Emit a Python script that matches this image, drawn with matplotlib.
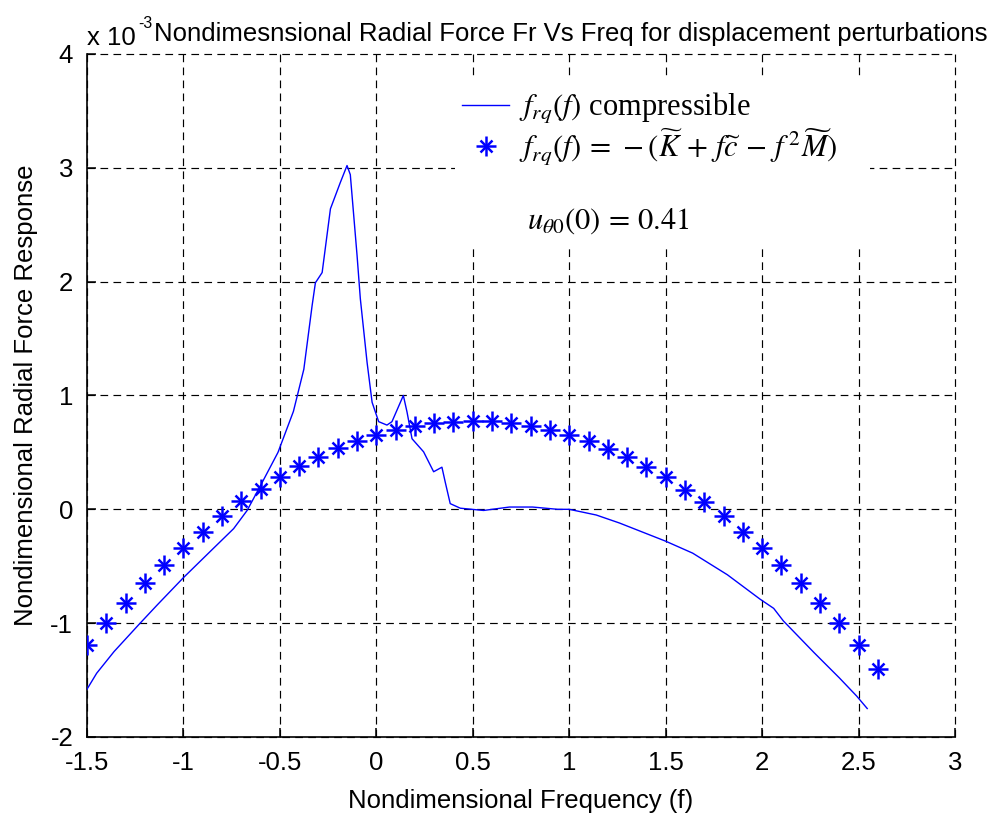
import matplotlib
matplotlib.use("Agg")
import matplotlib.pyplot as plt
from matplotlib.legend_handler import HandlerTuple
from matplotlib.patches import Rectangle
from matplotlib.ticker import FuncFormatter

plt.rcParams["font.family"] = ["Liberation Sans", "DejaVu Sans"]
plt.rcParams["mathtext.fontset"] = "stix"
plt.rcParams["axes.unicode_minus"] = False

# compressible response (x 1e-3), traced along frequency
freq_curve = [-1.50, -1.45, -1.36, -1.23, -1.136, -1.00, -0.843, -0.74, -0.67, -0.60,
              -0.51, -0.43, -0.376, -0.333, -0.316, -0.281, -0.238, -0.187, -0.152, -0.135,
              -0.10, -0.083, -0.048, -0.022, 0.012, 0.055, 0.081, 0.14, 0.159, 0.185,
              0.245, 0.297, 0.34, 0.357, 0.383, 0.435, 0.556, 0.69, 0.81, 0.94,
              1.00, 1.14, 1.26, 1.50, 1.64, 1.82, 1.99, 2.06, 2.11, 2.27,
              2.40, 2.49, 2.545]
fr_compressible = [-1.58, -1.44, -1.25, -1.01, -0.84, -0.60, -0.34, -0.17, -0.01, 0.21,
                   0.50, 0.86, 1.23, 1.79, 1.99, 2.08, 2.64, 2.87, 3.02, 2.94,
                   2.23, 1.85, 1.29, 0.94, 0.77, 0.74, 0.77, 1.00, 0.855, 0.62,
                   0.505, 0.33, 0.37, 0.24, 0.05, 0.01, -0.01, 0.02, 0.02, 0.0,
                   0.0, -0.05, -0.12, -0.28, -0.385, -0.575, -0.79, -0.87, -0.98, -1.26,
                   -1.48, -1.64, -1.75]

# -(K + f c - f^2 M) evaluated on the frequency grid (x 1e-3)
freq_model = [-1.5, -1.4, -1.3, -1.2, -1.1, -1.0, -0.9, -0.8, -0.7, -0.6,
              -0.5, -0.4, -0.3, -0.2, -0.1, 0.0, 0.1, 0.2, 0.3, 0.4,
              0.5, 0.6, 0.7, 0.8, 0.9, 1.0, 1.1, 1.2, 1.3, 1.4,
              1.5, 1.6, 1.7, 1.8, 1.9, 2.0, 2.1, 2.2, 2.3, 2.4,
              2.5, 2.6]
fr_model = [-1.19, -1.00, -0.82, -0.65, -0.49, -0.34, -0.20, -0.06, 0.07, 0.18,
            0.28, 0.38, 0.46, 0.54, 0.60, 0.65, 0.70, 0.73, 0.76, 0.77,
            0.78, 0.78, 0.76, 0.73, 0.70, 0.65, 0.60, 0.53, 0.46, 0.37,
            0.28, 0.17, 0.06, -0.06, -0.20, -0.34, -0.49, -0.65, -0.82, -1.00,
            -1.19, -1.40]

x_ticks = [-1.5, -1, -0.5, 0, 0.5, 1, 1.5, 2, 2.5, 3]
y_ticks = [-2, -1, 0, 1, 2, 3, 4]

LABEL_SIZE = 18.5
LEGEND_SIZE = 22

fig = plt.figure(figsize=(9.98, 8.13), dpi=100)
ax = fig.add_axes([0.0872, 0.0935, 0.8697, 0.8401])

ax.set_xlim(-1.5, 3)
ax.set_ylim(-2, 4)
ax.set_xticks(x_ticks)
ax.set_yticks(y_ticks)
ax.xaxis.set_major_formatter(FuncFormatter(lambda v, p: f"{v:g}"))
ax.yaxis.set_major_formatter(FuncFormatter(lambda v, p: f"{v:g}"))
ax.tick_params(direction="in", length=6.5, width=1.1, labelsize=LABEL_SIZE, pad=10)
for side in ["top", "right"]:
    ax.spines[side].set_visible(False)
for side in ["left", "bottom"]:
    ax.spines[side].set_linewidth(1.2)

ax.set_axisbelow(True)
ax.grid(True, color="black", linestyle=(0, (6.5, 4.5)), linewidth=0.85)
for gl in ax.get_xgridlines() + ax.get_ygridlines():
    gl.set_clip_on(False)

# white area behind the legend and the annotation
ax.add_patch(Rectangle((0.424, 0.720), 0.478, 0.245, transform=ax.transAxes,
                       facecolor="white", edgecolor="none", zorder=1))

line, = ax.plot(freq_curve, fr_compressible, color="#0000ff", linewidth=1.0, zorder=3)
plus, = ax.plot(freq_model, fr_model, linestyle="none", marker="+", markersize=15,
                markeredgewidth=1.8, color="#0000ff", zorder=4)
cross, = ax.plot(freq_model, fr_model, linestyle="none", marker="x", markersize=8,
                 markeredgewidth=1.8, color="#0000ff", zorder=4)

leg = ax.legend([line, (plus, cross)],
                [r"$f_{rq}(f)$ compressible",
                 r"$f_{rq}(f)\,=\,-(\widetilde{K}\,+\,f\widetilde{c}\,-\,f^{\,2}\widetilde{M})$"],
                handler_map={tuple: HandlerTuple(ndivide=1, pad=0)},
                loc="upper left", bbox_to_anchor=(0.425, 0.955), frameon=False,
                prop={"family": "Liberation Serif", "size": LEGEND_SIZE},
                handlelength=1.55, handletextpad=0.3, labelspacing=0.0,
                borderpad=0.2, borderaxespad=0)
leg.set_zorder(5)

ax.text(0.507, 0.745, r"$u_{\theta 0}(0)\,=\,0.41$", transform=ax.transAxes,
        fontsize=LEGEND_SIZE, ha="left", va="baseline", zorder=5)

ax.set_xlabel("Nondimensional Frequency (f)", fontsize=LABEL_SIZE, labelpad=10)
ax.set_ylabel("Nondimensional Radial Force Response", fontsize=LABEL_SIZE, labelpad=9)

fig.text(0.5721, 0.950, "Nondimesnsional Radial Force Fr Vs Freq for displacement perturbations",
         fontsize=LABEL_SIZE, ha="center", va="baseline")
fig.text(0.0872, 0.945, "x 10", fontsize=LABEL_SIZE, ha="left", va="baseline")
fig.text(0.1385, 0.966, "-3", fontsize=LABEL_SIZE * 0.62, ha="left", va="baseline")

fig.savefig("out.png", dpi=100)
